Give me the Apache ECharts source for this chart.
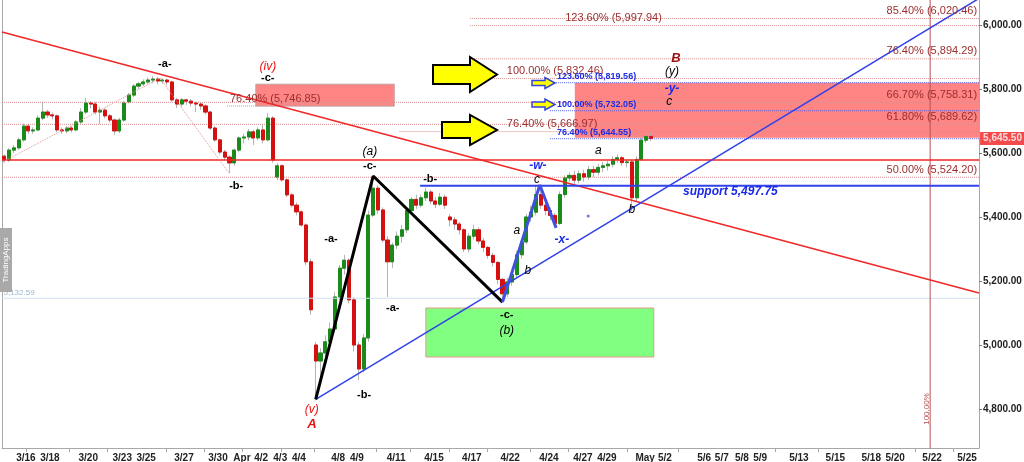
<!DOCTYPE html>
<html><head><meta charset="utf-8">
<script src="https://cdn.jsdelivr.net/npm/echarts@6/dist/echarts.min.js"></script>
<style>html,body{margin:0;padding:0;background:#fff}#c{width:1024px;height:462px}</style>
</head><body><div id="c"></div>
<script>
// ---- candles: [open, close, low, high], one per session slot ----
const ohlc = [
[5590,5578,5570,5595],[5578,5609,5572,5615],[5609,5616,5600,5625],[5616,5641,5610,5648],
[5641,5684,5635,5692],[5684,5669,5660,5690],[5669,5672,5660,5680],[5672,5709,5668,5718],
[5709,5728,5702,5760],[5728,5719,5710,5735],[5719,5716,5705,5726],[5716,5672,5665,5720],
[5672,5669,5660,5680],[5669,5678,5662,5685],[5678,5672,5664,5684],[5672,5697,5668,5703],
[5697,5728,5690,5740],[5728,5756,5722,5772],[5756,5753,5740,5762],[5753,5728,5720,5760],
[5728,5734,5690,5745],[5734,5716,5708,5740],[5716,5703,5695,5722],[5703,5669,5656,5708],
[5669,5703,5662,5710],[5703,5756,5698,5762],[5760,5781,5755,5788],[5781,5809,5775,5815],
[5809,5816,5800,5822],[5816,5822,5808,5830],[5822,5828,5815,5836],[5828,5831,5818,5840],
[5831,5825,5815,5838],[5825,5828,5816,5834],[5828,5822,5812,5832],[5822,5766,5760,5826],
[5766,5753,5740,5772],[5753,5766,5745,5772],[5766,5762,5750,5770],[5762,5756,5745,5768],
[5756,5753,5728,5760],[5753,5747,5735,5758],[5747,5728,5720,5752],[5728,5678,5672,5732],
[5678,5641,5635,5684],[5641,5603,5595,5645],[5603,5587,5578,5610],[5587,5569,5537,5592],
[5569,5609,5560,5614],[5609,5647,5602,5652],[5647,5650,5630,5660],[5650,5666,5640,5675],
[5666,5647,5625,5672],[5647,5672,5640,5680],[5672,5641,5630,5688],[5641,5709,5636,5725],
[5709,5578,5570,5715],[5525,5560,5515,5568],[5560,5516,5510,5565],[5516,5469,5462,5520],
[5469,5437,5430,5475],[5437,5416,5405,5445],[5416,5375,5370,5420],[5375,5260,5250,5380],
[5260,5110,5095,5270],[5000,4950,4830,5010],[4950,4975,4900,4990],[4975,5010,4960,5030],
[5010,5050,5000,5070],[5050,5150,5040,5165],[5150,5240,5140,5250],[5240,5265,5220,5282],
[5265,5141,5130,5270],[5141,5000,4980,5150],[5000,4925,4890,5010],[4925,5022,4915,5035],
[5022,5406,5010,5420],[5406,5490,5400,5528],[5490,5422,5410,5500],[5422,5328,5320,5430],
[5328,5260,5150,5340],[5260,5312,5240,5320],[5312,5340,5300,5355],[5340,5360,5320,5375],
[5360,5420,5350,5430],[5420,5455,5410,5462],[5455,5437,5425,5470],[5437,5460,5430,5470],
[5460,5478,5450,5492],[5478,5450,5440,5485],[5450,5440,5428,5462],[5440,5462,5435,5475],
[5462,5437,5425,5470],[5400,5391,5370,5410],[5391,5378,5360,5400],[5378,5360,5345,5385],
[5360,5300,5290,5365],[5300,5340,5290,5350],[5340,5360,5330,5375],[5360,5325,5315,5368],
[5325,5305,5290,5335],[5305,5280,5270,5310],[5280,5258,5245,5288],[5258,5205,5190,5262],
[5205,5160,5134,5210],[5160,5197,5150,5210],[5197,5220,5185,5235],[5220,5282,5210,5295],
[5282,5322,5270,5330],[5322,5400,5315,5410],[5400,5415,5385,5435],[5415,5470,5405,5500],
[5470,5437,5425,5490],[5437,5420,5405,5445],[5420,5405,5390,5430],[5405,5380,5369,5412],
[5380,5470,5375,5480],[5470,5522,5460,5530],[5522,5530,5510,5540],[5530,5515,5500,5545],
[5515,5535,5505,5545],[5535,5525,5510,5548],[5525,5548,5515,5560],[5548,5540,5525,5560],
[5540,5555,5530,5565],[5555,5560,5540,5572],[5560,5565,5545,5575],[5565,5580,5555,5590],
[5580,5585,5570,5595],[5585,5570,5560,5590],[5570,5572,5555,5580],[5572,5460,5418,5578],
[5460,5580,5450,5590],[5580,5640,5575,5648],[5640,5652,5632,5660],[5652,5645.5,5638,5664]
];
const slotCount = 204;
const slots = Array.from({length: slotCount}, (_, i) => String(i));

// ---- axis labels ----
const dateLabels = ['3/16','3/18','3/20','3/23','3/25','3/27','3/30','Apr','4/2','4/3','4/4','4/8','4/9','4/11','4/15','4/17','4/22','4/24','4/27','4/29','May','5/2','5/6','5/7','5/8','5/9','5/13','5/15','5/18','5/20','5/22','5/25'];
const dateLabelPos = [5.0,10.0,18.0,25.1,30.1,38.0,45.1,50.1,54.1,58.1,62.0,70.2,74.1,82.3,90.2,98.1,106.1,114.2,121.3,126.3,134.3,138.4,146.6,150.3,154.5,158.3,166.4,174.0,181.5,186.5,194.2,201.5];
const dateTickPos = [5.0,14.0,22.0,34.2,42.2,50.2,58.3,65.2,78.2,85.3,93.3,101.3,110.3,118.3,130.5,141.3,161.5,170.5,190.7,198.7];
const priceTicks = [4800,5000,5200,5400,5600,5800,6000];
const lastPrice = 5645.5;

// ---- drawn studies: [slot, price] ----
const trendDown = [[0,5978],[204,5162.5]];
const trendUp = [[65.5,4830],[204,6083]];
const waveBlack = [[65.5,4830],[77.5,5528],[104.5,5134]];
const waveBlue = [[104.5,5134],[112.3,5500],[115.7,5366]];
const wavePink = [[0.2,5572],[33,5834],[47.4,5537]];
const supportLine = [[87.3,5497.75],[204,5497.75]];
const redLevel = [[0,5578],[204,5578]];
const refLevel = [[0,5146],[204,5146]];
const timeLine = [[193.8,4600],[193.8,6100]];

const fibRedLevels = [6020.46,5997.94,5894.29,5832.46,5758.31,5689.62,5666.97,5524.20,5746.85];
const fibRedFrom   = [97.7,97.7,97.7,97.7,0,0,83,0,47];
const fibRedTo     = [204,204,204,204,204,204,204,204,82];
const fibRedText   = ['85.40% (6,020.46)','123.60% (5,997.94)','76.40% (5,894.29)','100.00% (5,832.46)','66.70% (5,758.31)','61.80% (5,689.62)','76.40% (5,666.97)','50.00% (5,524.20)','76.40% (5,746.85)'];
const fibRedTextAt = [203.6,117.6,203.6,105.4,203.6,203.6,105.4,203.6,47.6];

const fibBlueLevels = [5819.56,5732.05,5644.55];
const fibBlueFrom = 114.4;
const fibBlueText = ['123.60% (5,819.56)','100.00% (5,732.05)','76.40% (5,644.55)'];
const fibBlueTextAt = 115.9;

const zones = [
  [119.6,5819.56,204,5648],   // target zone
  [53.0,5815,81.9,5746.85],   // (iv) zone
  [88.5,5115.6,136.1,4962.5]  // (b) zone
];

const waveText = [
 ['(iv)',55.5,5869,'red'],['-c-',55.5,5834,'plain'],['-a-',34.0,5878,'plain'],['-b-',48.9,5497,'plain'],
 ['-a-',68.7,5331,'plain'],['-a-',81.6,5116,'plain'],['-b-',75.6,4844,'plain'],
 ['(v)',64.7,4797,'red'],['A',64.7,4753,'redBold'],
 ['(a)',76.8,5603,'italic'],['-c-',76.8,5559,'plain'],['-b-',89.4,5519,'plain'],
 ['-c-',105.4,5094,'plain'],['(b)',105.4,5044,'italic'],
 ['-w-',111.9,5559,'blue'],['c',111.7,5516,'italic'],['a',107.5,5356,'italic'],['b',109.8,5231,'italic'],
 ['-x-',116.9,5328,'blue'],['a',124.5,5606,'italic'],['b',131.5,5422,'italic'],
 ['B',140.7,5897,'darkred'],['(y)',139.9,5853,'italic'],['-y-',139.9,5800,'blue'],['c',139.3,5759,'italic']
];
const supportText = ['support 5,497.75',142.2,5478];
const refText = ['5,132.59',0.3,5162];
const timeText = ['100.00%',193.1,4800];
const markerDot = [[122.4,5403]];

// ---- build ----
const FONT = '"Liberation Sans", Arial, sans-serif';
const fmtPrice = v => v.toLocaleString('en-US',{minimumFractionDigits:2,maximumFractionDigits:2});
const baseText = {textBorderWidth:0, textShadowBlur:0, opacity:1};
const textStyles = {
  plain:{color:'#000',fontSize:11,fontWeight:'bold'},
  red:{color:'#ee1010',fontSize:12,fontStyle:'italic'},
  redBold:{color:'#ee1010',fontSize:13,fontStyle:'italic',fontWeight:'bold'},
  italic:{color:'#000',fontSize:12,fontStyle:'italic'},
  blue:{color:'#1a2ae8',fontSize:12,fontStyle:'italic',fontWeight:'bold'},
  darkred:{color:'#9a1010',fontSize:13,fontStyle:'italic',fontWeight:'bold'}
};

function seg(data, color, width, type, z){
  return {type:'line', xAxisIndex:1, yAxisIndex:0, data, symbol:'none', silent:true, z:z||4,
    lineStyle:{color, width, type:type||'solid'}, animation:false};
}
const series = [];
// zones
series.push({type:'custom', xAxisIndex:1, yAxisIndex:0, silent:true, z:1, data:zones,
  renderItem(params, api){
    const p0 = api.coord([api.value(0), api.value(1)]);
    const p1 = api.coord([api.value(2), api.value(3)]);
    const st = [
      {fill:'rgba(255,110,110,0.85)', stroke:null},
      {fill:'#ff8585', stroke:'#c0a0a0'},
      {fill:'#80ff80', stroke:'#e49a8a'}
    ][params.dataIndex];
    return {type:'rect', shape:{x:p0[0], y:p0[1], width:p1[0]-p0[0], height:p1[1]-p0[1]},
      style:{fill:st.fill, stroke:st.stroke, lineWidth:1}};
  }});
// candles: wicks (grey) + bodies (coloured)
series.push({type:'candlestick', xAxisIndex:0, yAxisIndex:0, data:ohlc, barWidth:3.6, z:2, silent:true,
  itemStyle:{color:'#b4b4b4', color0:'#b4b4b4', borderColor:'#b4b4b4', borderColor0:'#b4b4b4', borderWidth:1}});
series.push({type:'candlestick', xAxisIndex:0, yAxisIndex:0, z:3, silent:true, barWidth:3.6,
  data: ohlc.map(d => [d[0], d[1], Math.min(d[0],d[1]), Math.max(d[0],d[1])]),
  itemStyle:{color:'#1a8a1a', color0:'#d41010', borderColor:'#1a8a1a', borderColor0:'#d41010', borderWidth:1}});
// fib dotted levels
fibRedLevels.forEach((lv,i)=>series.push(seg([[fibRedFrom[i],lv],[fibRedTo[i],lv]], '#d88e8e', 1, 'dotted', 3)));
fibBlueLevels.forEach(lv=>series.push(seg([[fibBlueFrom,lv],[204,lv]], '#5060e8', 1, 'dotted', 3)));
// lines
series.push(seg(refLevel, '#cfe2f3', 1));
series.push(seg(timeLine, '#b85050', 1));
series.push(seg(redLevel, '#f02424', 1.5));
series.push(seg(trendDown, '#f02828', 1.5));
series.push(seg(supportLine, '#3042e8', 2));
series.push(seg(trendUp, '#3042e8', 1.5));
series.push(seg(wavePink, '#e49494', 1, 'dotted'));
series.push(seg(waveBlack, '#000', 3, 'solid', 5));
series.push(seg(waveBlue, '#4050e0', 3, 'solid', 5));
// texts
const textItems = [];
waveText.forEach(t => textItems.push({value:[t[1],t[2]], label:Object.assign({formatter:t[0]}, baseText, textStyles[t[3]])}));
fibRedText.forEach((t,i) => textItems.push({value:[fibRedTextAt[i], fibRedLevels[i]],
  label:Object.assign({formatter:t, color:'#9a2e2e', fontSize:11, align: fibRedTextAt[i] > 200 ? 'right' : 'left', verticalAlign:'bottom', offset:[0,-2]}, baseText)}));
fibBlueText.forEach((t,i) => textItems.push({value:[fibBlueTextAt, fibBlueLevels[i]],
  label:Object.assign({formatter:t, color:'#1a2ae8', fontSize:9, fontWeight:'bold', align:'left', verticalAlign:'bottom', offset:[0,-2]}, baseText)}));
textItems.push({value:[supportText[1],supportText[2]], label:Object.assign({formatter:supportText[0], color:'#1a2ae8', fontSize:12, fontWeight:'bold', fontStyle:'italic', align:'left'}, baseText)});
textItems.push({value:[refText[1],refText[2]], label:Object.assign({formatter:refText[0], color:'#9fb6cc', fontSize:8, align:'left'}, baseText)});
textItems.push({value:[timeText[1],timeText[2]], label:Object.assign({formatter:timeText[0], color:'#b85050', fontSize:8, rotate:90}, baseText)});
series.push({type:'scatter', xAxisIndex:1, yAxisIndex:0, silent:true, z:6, symbolSize:0.1,
  itemStyle:{color:'rgba(0,0,0,0)'}, data:textItems, animation:false,
  label:{show:true, position:'inside', fontFamily:FONT}});
series.push({type:'scatter', xAxisIndex:1, yAxisIndex:0, silent:true, z:6, symbolSize:3,
  itemStyle:{color:'#4455ee'}, data:markerDot});
// last price tag
series.push({type:'scatter', xAxisIndex:1, yAxisIndex:0, silent:true, z:10, clip:false, symbolSize:0.1,
  itemStyle:{color:'rgba(0,0,0,0)'}, data:[[slotCount, lastPrice]], animation:false,
  label:{show:true, position:'right', distance:1, formatter:fmtPrice(lastPrice), backgroundColor:'#f01e1e',
    color:'#fff', fontSize:10, fontWeight:'bold', fontFamily:FONT, padding:[2,3,1,3], textBorderWidth:0}});

function arrow(pts, fill, stroke, lw){
  return {type:'polygon', z:100, shape:{points:pts}, style:{fill, stroke, lineWidth:lw}};
}
const option = {
  animation:false,
  backgroundColor:'#fff',
  grid:{left:2, right:45, top:0, bottom:14, containLabel:false, outerBoundsMode:'none'},
  xAxis:[
    {type:'category', data:slots, boundaryGap:true, position:'bottom',
     axisLine:{show:true, onZero:false, lineStyle:{color:'#a8a8a8'}}, axisTick:{show:false}, axisLabel:{show:false}, splitLine:{show:false}},
    {type:'value', min:0, max:slotCount, position:'bottom',
     axisLine:{show:false, onZero:false},
     axisTick:{show:true, customValues:dateTickPos, length:4, lineStyle:{color:'#a8a8a8'}},
     axisLabel:{show:true, customValues:dateLabelPos, margin:5, fontSize:10, fontWeight:'bold', color:'#222', fontFamily:FONT,
       formatter:v => { const i = dateLabelPos.findIndex(p => Math.abs(p - v) < 1e-6); return i >= 0 ? dateLabels[i] : ''; }},
     splitLine:{show:false}}
  ],
  yAxis:[
    {type:'value', position:'right', min:4678.1, max:6078.1, splitNumber:7,
     axisLine:{show:true, onZero:false, lineStyle:{color:'#a8a8a8'}},
     axisTick:{show:true, length:3, customValues:priceTicks, lineStyle:{color:'#777'}},
     axisLabel:{show:true, customValues:priceTicks, margin:4, fontSize:10, fontWeight:'bold', color:'#222', fontFamily:FONT,
       formatter:v => (Math.abs(v % 200) < 1e-6 ? fmtPrice(v) : '')},
     splitLine:{show:false}},
    {type:'value', position:'left', min:4678.1, max:6078.1,
     axisLine:{show:true, onZero:false, lineStyle:{color:'#a8a8a8'}}, axisTick:{show:false}, axisLabel:{show:false}, splitLine:{show:false}}
  ],
  series,
  graphic:[
    arrow([[433,65],[470,65],[470,57],[497,74.5],[470,92],[470,84],[433,84]], '#ffff00', '#000', 2),
    arrow([[442,122],[470,122],[470,115],[497,130],[470,145],[470,138],[442,138]], '#ffff00', '#000', 2),
    arrow([[532,80.5],[545,80.5],[545,77.5],[555,83],[545,88.5],[545,85.5],[532,85.5]], '#ffff00', '#3344dd', 1.5),
    arrow([[532,102],[545,102],[545,99],[555,104.5],[545,110],[545,107],[532,107]], '#ffff00', '#3344dd', 1.5),
    {type:'rect', z:100, shape:{x:0, y:228, width:12, height:64}, style:{fill:'#a9a9a9'}},
    {type:'text', z:101, x:6, y:260, rotation:Math.PI/2, style:{text:'TradingApps', fill:'#fff', fontSize:8, fontFamily:FONT, align:'center', verticalAlign:'middle'}}
  ]
};
const chart = echarts.init(document.getElementById('c'), null, {renderer:'canvas'});
chart.setOption(option);
</script></body></html>
